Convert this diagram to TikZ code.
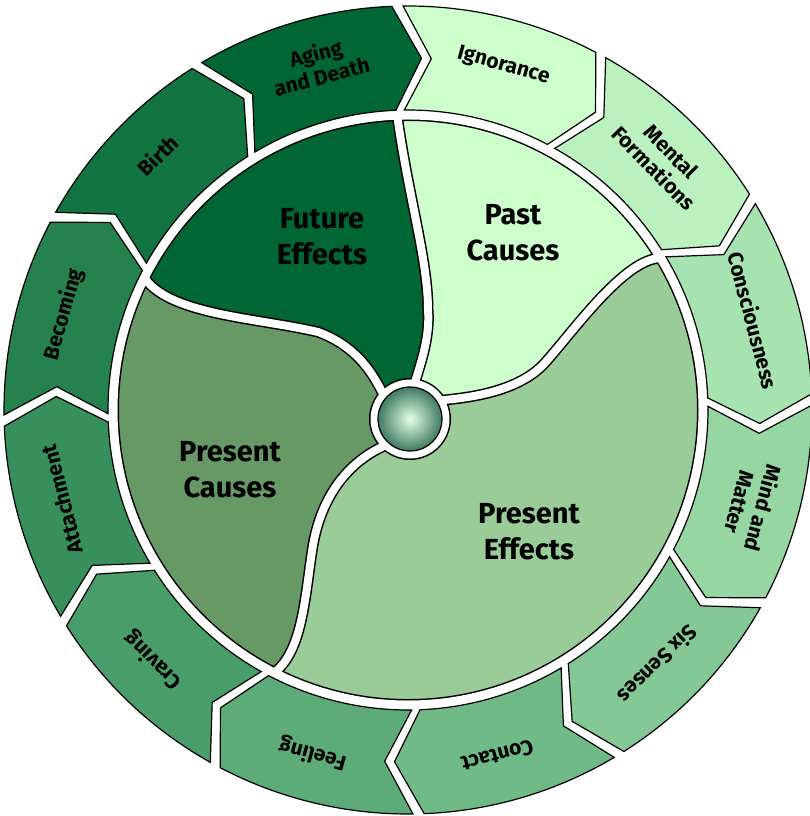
\documentclass[tikz,border=0pt]{standalone}
\usepackage{fontspec}
\setmainfont{Fira Sans}

\definecolor{rimlight}{HTML}{CCFFCC}
\definecolor{rimdark}{HTML}{006633}
\definecolor{pastcol}{HTML}{CCFFCC}
\definecolor{futurecol}{HTML}{006633}
\definecolor{preseffcol}{HTML}{99CC99}
\definecolor{prescausecol}{HTML}{669966}
\definecolor{ballin}{HTML}{E4FFEA}
\definecolor{ballout}{HTML}{3F7A60}

\begin{document}
\begin{tikzpicture}[x=1pt, y=1pt,
linkseg/.style={draw=black, line width=1.2pt, line join=miter},
linklabel/.style={font=\bfseries\fontsize{21}{24}\selectfont, align=center, inner sep=0pt},
phaselabel/.style={font=\bfseries\fontsize{29}{36}\selectfont, align=center},
]
\useasboundingbox (-408,-406) rectangle (401,410);

%Phases
\begin{scope}
\clip (0,0) circle[radius=296];
\fill[preseffcol] (0,0) circle[radius=296];
\fill[pastcol] (2,-9) -- (7,28) .. controls (14,50) and (22,75) .. (20,100) .. controls (20,150) and (0,215) .. (-11,296)
  -- (-20,330) -- (340,330) -- (300,180) -- (252,152)
  .. controls (215,150) and (165,78) .. (135,45) .. controls (110,20) and (68,13) .. (36,10) -- cycle;
\fill[futurecol] (2,-9) -- (-26,18) .. controls (-38,42) and (-55,65) .. (-90,78) .. controls (-150,92) and (-235,95) .. (-262,130)
  -- (-300,150) -- (-330,330) -- (-20,330) -- (-11,296)
  .. controls (0,215) and (20,150) .. (20,100) .. controls (22,75) and (14,50) .. (7,28) -- cycle;
\fill[prescausecol] (2,-9) -- (-24,-36) .. controls (-55,-50) and (-85,-80) .. (-95,-135) .. controls (-103,-185) and (-105,-240) .. (-133,-262)
  -- (-150,-300) -- (-340,-330) -- (-340,160) -- (-300,150) -- (-262,130)
  .. controls (-235,95) and (-150,92) .. (-90,78) .. controls (-55,65) and (-38,42) .. (-26,18) -- cycle;
\end{scope}

%Gaps: black edges first, white bands on top
\draw[black, line width=10pt] (0,0) circle[radius=294];
\fill[black] (2,-9) circle[radius=41];
\foreach \col/\wd in {black/11, white/8}
{
  \draw[\col, line width=\wd pt, line join=round] (2,-9) -- (7,28) .. controls (14,50) and (22,75) .. (20,100) .. controls (20,150) and (0,215) .. (-11,296);
  \draw[\col, line width=\wd pt, line join=round] (2,-9) -- (36,10) .. controls (68,13) and (110,20) .. (135,45) .. controls (165,78) and (215,150) .. (252,152);
  \draw[\col, line width=\wd pt, line join=round] (2,-9) -- (-24,-36) .. controls (-55,-50) and (-85,-80) .. (-95,-135) .. controls (-103,-185) and (-105,-240) .. (-133,-262);
  \draw[\col, line width=\wd pt, line join=round] (2,-9) -- (-26,18) .. controls (-38,42) and (-55,65) .. (-90,78) .. controls (-150,92) and (-235,95) .. (-262,130);
}
\draw[white, line width=9pt] (0,0) circle[radius=295];
\fill[white] (2,-9) circle[radius=39.5];
\shadedraw[inner color=ballin, outer color=ballout, draw=black, line width=1.2pt] (2,-9) circle[radius=32];

%Phase labels
\node[phaselabel] (future)      at (-86,173)  {Future\\Effects};
\node[phaselabel] (past)        at (105,177)  {Past\\Causes};
\node[phaselabel] (prescauses)  at (-178,-60) {Present\\Causes};
\node[phaselabel] (preseffects) at (121,-122) {Present\\Effects};

%Links
\foreach \lbl [count=\i from 0] in {Ignorance, {Mental\\Formations}, Consciousness, {Mind and\\Matter}, {Six Senses}, Contact, Feeling, Craving, Attachment, Becoming, Birth, {Aging\\and Death}}
{
  \pgfmathsetmacro{\angA}{91.5-30*\i-0.8}
  \pgfmathsetmacro{\angB}{91.5-30*\i-29.2}
  \pgfmathsetmacro{\angL}{91.5-30*\i-17}
  \pgfmathtruncatemacro{\pct}{round(100*\i/11)}
  \draw[linkseg, fill=rimdark!\pct!rimlight] (\angA:404) arc[start angle=\angA, end angle=\angB, radius=404]
    -- (\angB-4.5:352) -- (\angB:300) arc[start angle=\angB, end angle=\angA, radius=300]
    -- (\angA-4.5:352) -- cycle;
  \node[linklabel, rotate=\angL-90] (link\i) at (\angL:357) {\lbl};
}

\end{tikzpicture}
\end{document}
